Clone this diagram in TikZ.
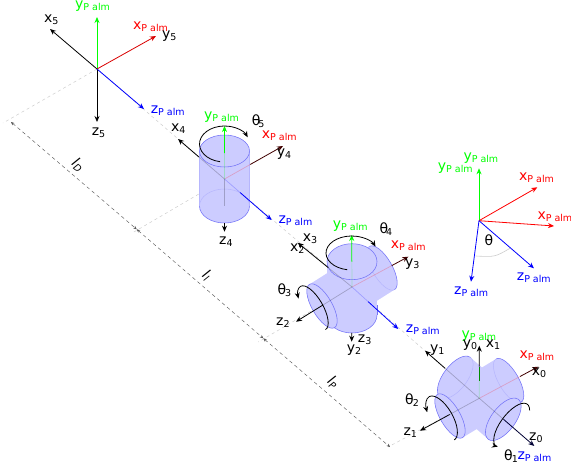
\documentclass[tikz,border=0pt]{standalone}
\usepackage{fontspec}
\setmainfont{DejaVu Sans}
\usetikzlibrary{arrows.meta,calc}
\definecolor{jointfill}{rgb}{0.80,0.80,1}
\definecolor{jointedge}{rgb}{0.45,0.45,0.97}
\newcommand{\lowtext}[1]{\raisebox{-2pt}{\fontsize{9.5}{11}\selectfont #1}}
\newcommand{\palm}{\lowtext{P alm}}
\newcommand{\tube}[4]{% two end centres, tilt, short radius
  \fill[jointfill] ($(#1)+(#3:25pt)$) -- ($(#1)-(#3:25pt)$) -- ($(#2)-(#3:25pt)$) -- ($(#2)+(#3:25pt)$) -- cycle;
  \fill[jointfill] (#1) ellipse[x radius=25pt,y radius=#4pt,rotate=#3];
  \fill[jointfill] (#2) ellipse[x radius=25pt,y radius=#4pt,rotate=#3];}
\newcommand{\ringarc}[7][]{% style, centre, tilt, rx, ry, from, to
  \draw[#1,shift={(#2)},rotate=#3] (#6:#4pt and #5pt) arc[start angle=#6,end angle=#7,x radius=#4pt,y radius=#5pt];}
\tikzset{
  lab/.style={anchor=base west,inner sep=0pt,font=\fontsize{14}{16}\selectfont},
  dimlab/.style={inner sep=0pt,rotate=-40,font=\fontsize{14}{16}\selectfont},
  axis/.style={->,line width=0.8pt},
  faint/.style={line width=0.7pt,opacity=0.22},
  edge/.style={draw=jointedge,fill=jointfill,line width=0.55pt},
  rim/.style={jointedge,line width=0.55pt},
  paleedge/.style={jointedge!25!jointfill,line width=0.5pt},
  turn/.style={->,black,line width=0.8pt},
  guide/.style={gray!40,line width=0.5pt,dash pattern=on 3pt off 3pt},
  dimline/.style={{Stealth[length=3.5pt,width=3pt]}-{Stealth[length=3.5pt,width=3pt]},black!65,line width=0.45pt,dash pattern=on 3.5pt off 3pt},
  >={Stealth[length=6pt,width=5pt]}
}
\begin{document}
\begin{tikzpicture}[x=1pt,y=-1pt]
  \useasboundingbox (0,0) rectangle (571,463);
  \foreach \n/\p in {o5/{97,69},x5/{50,29},y5/{156,36},g5/{97,17},b5/{144,109},z5/{97,122},
    o4/{224.5,179},x4/{178,139},y4/{283,146},g4/{224.5,126},b4/{271.7,220},z4/{224.5,231.7},
    o3/{352,287},x3/{297.7,242.7},y3/{408.3,256.7},g3/{351.7,235},b3/{398.3,329},z3/{351.7,341.7},z2/{296,321.7},
    o1/{479.3,398.3},y1/{425,350.7},x0/{538.3,366.7},g1/{479.3,345.7},z1/{420,430.7},z0/{534.3,446},
    o0/{479,220.7},g0/{479,168.3},ra/{537.3,187.3},rb/{554,226},ba/{534,268.3},bb/{471,281.7},
    d0/{11,122},d1/{136.7,229.3},d2/{263.3,338.3},d3/{390,447},
    e0/{3,123},e1/{131.7,233.3},e2/{258.3,342},e3/{388,447},
    arca/{475.7,256},arcb/{495,257},arcc/{510,248.3},
    topb/{224.5,151},botb/{224.5,206},topc/{352,261.7},botc/{352,315},
    lc/{322,306},rc/{382,268},ld/{450,416},ru/{508.6,380.6},rd/{503.3,419.3},lu/{455.3,377.3}}
    \coordinate (\n) at (\p);

  % guide lines and dimensions
  \draw[guide] (o5) -- (o4) -- (o3) -- (o1);
  \draw[guide] (o5) -- (e0);
  \draw[guide] (o4) -- (e1);
  \draw[guide] (o3) -- (e2);
  \draw[guide] (o1) -- (e3);
  \draw[dimline] (d0) -- (d1);
  \draw[dimline] (d1) -- (d2);
  \draw[dimline] (d2) -- (d3);
  \node[dimlab] (lD) at (78,165) {{\itshape l}\lowtext{\itshape D}};
  \node[dimlab] (lL) at (206.7,275) {{\itshape l}\lowtext{\itshape l}};
  \node[dimlab] (lP) at (333,382) {{\itshape l}\lowtext{\itshape P}};

  % palm frame
  \draw[axis] (o5) -- (x5);
  \draw[axis] (o5) -- (z5);
  \draw[axis,green] (o5) -- (g5);
  \draw[axis,red!85!black] (o5) -- (y5);
  \draw[axis,blue] (o5) -- (b5);
  \node[lab] (x5t) at (44,22) {x\lowtext{5}};
  \node[lab,green] (g5t) at (75,8.5) {y\palm};
  \node[lab,red] (r5t) at (133,29) {x\palm};
  \node[lab] (y5t) at (162,38.5) {y\lowtext{5}};
  \node[lab,blue] (b5t) at (150.7,113.5) {z\palm};
  \node[lab] (z5t) at (91.7,135) {z\lowtext{5}};

  % wrist cylinder
  \fill[jointfill] (199.5,151) rectangle (249.5,206);
  \fill[jointfill] (botb) ellipse[x radius=25pt,y radius=17pt];
  \draw[paleedge] (199.5,151) -- (199.5,206);
  \draw[paleedge] (249.5,151) -- (249.5,206);
  \ringarc[paleedge]{botb}{0}{25}{17}{0}{180}
  \ringarc[rim]{botb}{0}{25}{17}{180}{360}
  \path[edge] (topb) ellipse[x radius=25pt,y radius=16pt];
  \draw[faint] (o4) -- ($(o4)!.55!(x4)$);
  \draw[faint,red] (o4) -- ($(o4)!.44!(y4)$);
  \draw[faint,green] (o4) -- ($(o4)!.49!(g4)$);
  \draw[faint] (o4) -- (botb);
  \draw[faint,blue] (o4) -- ($(o4)!.33!(b4)$);
  \draw[axis] ($(o4)!.55!(x4)$) -- (x4);
  \draw[axis,black!75!red] ($(o4)!.44!(y4)$) -- (y4);
  \draw[axis,green] ($(o4)!.49!(g4)$) -- (g4);
  \draw[axis,blue] ($(o4)!.33!(b4)$) -- (b4);
  \draw[axis] ($(o4)!.835!(z4)$) -- (z4);
  \ringarc[turn]{224.5,144}{0}{25}{18}{260}{22}
  \node[lab] (x4t) at (171,131.7) {x\lowtext{4}};
  \node[lab,green] (g4t) at (204,119.3) {y\palm};
  \node[lab] (th5) at (251.7,125) {θ\kern-2pt\lowtext{5}};
  \node[lab,red] (r4t) at (261.7,138.3) {x\palm};
  \node[lab] (y4t) at (276.7,156.7) {y\lowtext{4}};
  \node[lab,blue] (b4t) at (278.3,223.3) {z\palm};
  \node[lab] (z4t) at (219,244.3) {z\lowtext{4}};

  % elbow joint
  \tube{lc}{rc}{-60}{10}
  \fill[jointfill] (327,261.7) rectangle (377,315);
  \fill[jointfill] (botc) ellipse[x radius=25pt,y radius=18pt];
  \ringarc[rim]{botc}{0}{25}{18}{180}{360}
  \draw[rim] (377,305) -- (377,315);
  \ringarc[paleedge]{rc}{-60}{25}{10}{180}{360}
  \ringarc[rim]{rc}{-60}{25}{10}{0}{180}
  \path[edge] (lc) ellipse[x radius=25pt,y radius=10pt,rotate=-60];
  \path[edge] (topc) ellipse[x radius=25pt,y radius=18pt];
  \draw[faint] (o3) -- ($(o3)!.437!(x3)$);
  \draw[faint,red] (o3) -- ($(o3)!.705!(y3)$);
  \draw[faint,green] (o3) -- ($(o3)!.487!(g3)$);
  \draw[faint,blue] (o3) -- ($(o3)!.35!(b3)$);
  \draw[faint] (o3) -- ($(o3)!.52!(z2)$);
  \draw[axis] ($(o3)!.437!(x3)$) -- (x3);
  \draw[axis,black!75!red] ($(o3)!.705!(y3)$) -- (y3);
  \draw[axis,green] ($(o3)!.487!(g3)$) -- (g3);
  \draw[axis,blue] ($(o3)!.35!(b3)$) -- (b3);
  \draw[axis] ($(o3)!.84!(z3)$) -- (z3);
  \draw[axis] ($(o3)!.52!(z2)$) -- (z2);
  \ringarc[turn]{351.7,253}{0}{25.7}{17}{260}{22}
  \ringarc[turn]{313,308}{-60}{25}{10}{0}{232}
  \node[lab] (x3t) at (302.7,241.7) {x\lowtext{3}};
  \node[lab] (x2t) at (290,251.7) {x\lowtext{2}};
  \node[lab,green] (g3t) at (332.7,228.3) {y\palm};
  \node[lab] (th4) at (379.3,233.3) {θ\kern-2pt\lowtext{4}};
  \node[lab,red] (r3t) at (390.7,248.3) {x\palm};
  \node[lab] (y3t) at (405,266.7) {y\lowtext{3}};
  \node[lab] (th3) at (277.3,294.3) {θ\kern-1pt\lowtext{3}};
  \node[lab] (z2t) at (276,325) {z\lowtext{2}};
  \node[lab] (z3t) at (357.7,342.7) {z\lowtext{3}};
  \node[lab] (y2t) at (346.7,352.7) {y\lowtext{2}};
  \node[lab,blue] (b3t) at (405.7,332.3) {z\palm};

  % shoulder joint
  \tube{ld}{ru}{-60}{10}
  \tube{lu}{rd}{53}{12}
  \ringarc[paleedge]{ru}{-60}{25}{10}{180}{360}
  \ringarc[rim]{ru}{-60}{25}{10}{0}{180}
  \ringarc[paleedge]{lu}{53}{25}{12}{180}{360}
  \ringarc[rim]{lu}{53}{25}{12}{0}{180}
  \path[edge] (ld) ellipse[x radius=25pt,y radius=10pt,rotate=-60];
  \path[edge] (rd) ellipse[x radius=25pt,y radius=12pt,rotate=53];
  \draw[faint] (o1) -- ($(o1)!.63!(y1)$);
  \draw[faint,red] (o1) -- ($(o1)!.69!(x0)$);
  \draw[faint,green] (o1) -- ($(o1)!.335!(g1)$);
  \draw[faint] (o1) -- ($(o1)!.5!(z1)$);
  \draw[faint] (o1) -- ($(o1)!.44!(z0)$);
  \draw[axis] ($(o1)!.63!(y1)$) -- (y1);
  \draw[line width=0.8pt,black!45!green] ($(o1)!.335!(g1)$) -- ($(o1)!.6!(g1)$);
  \draw[axis] ($(o1)!.6!(g1)$) -- (g1);
  \draw[axis,black!75!red] ($(o1)!.69!(x0)$) -- (x0);
  \draw[axis] ($(o1)!.5!(z1)$) -- (z1);
  \draw[axis,black!80!blue] ($(o1)!.44!(z0)$) -- (z0);
  \ringarc[turn]{441.7,418.3}{-60}{25}{11}{0}{240}
  \ringarc[turn]{511.7,425}{53}{26}{11}{-30}{190}
  \node[lab,green] (g1t) at (461.3,338.3) {y\palm};
  \node[lab] (y0t) at (462.7,347.3) {y\lowtext{0}};
  \node[lab] (x1t) at (485.7,347.7) {x\lowtext{1}};
  \node[lab] (y1t) at (430,352) {y\lowtext{1}};
  \node[lab,red] (r1t) at (519.3,358.3) {x\palm};
  \node[lab] (x0t) at (531.7,375) {x\lowtext{0}};
  \node[lab] (th2) at (405,404.3) {θ\kern-1pt\lowtext{2}};
  \node[lab] (z1t) at (403.3,435) {z\lowtext{1}};
  \node[lab] (z0t) at (529,440) {z\lowtext{0}};
  \node[lab] (th1) at (504,460.7) {θ\kern-1pt\lowtext{1}};
  \node[lab,blue] (b1t) at (517.3,459.3) {z\palm};

  % rotated frame
  \draw[gray!40,line width=0.6pt] (arca) .. controls (arcb) .. (arcc);
  \draw[axis,green] (o0) -- (g0);
  \draw[axis,red] (o0) -- (ra);
  \draw[axis,red] (o0) -- (rb);
  \draw[axis,blue] (o0) -- (ba);
  \draw[axis,blue] (o0) -- (bb);
  \node[lab,green] (g0a) at (463.3,160.7) {y\palm};
  \node[lab,green] (g0b) at (437.7,170.7) {y\palm};
  \node[lab,red] (r0a) at (519,180.7) {x\palm};
  \node[lab,red] (r0b) at (537.3,219) {x\palm};
  \node[lab,blue] (b0a) at (516.7,280.7) {z\palm};
  \node[lab,blue] (b0b) at (454,294.3) {z\palm};
  \node[lab] (th) at (484.3,245) {θ};
\end{tikzpicture}
\end{document}
